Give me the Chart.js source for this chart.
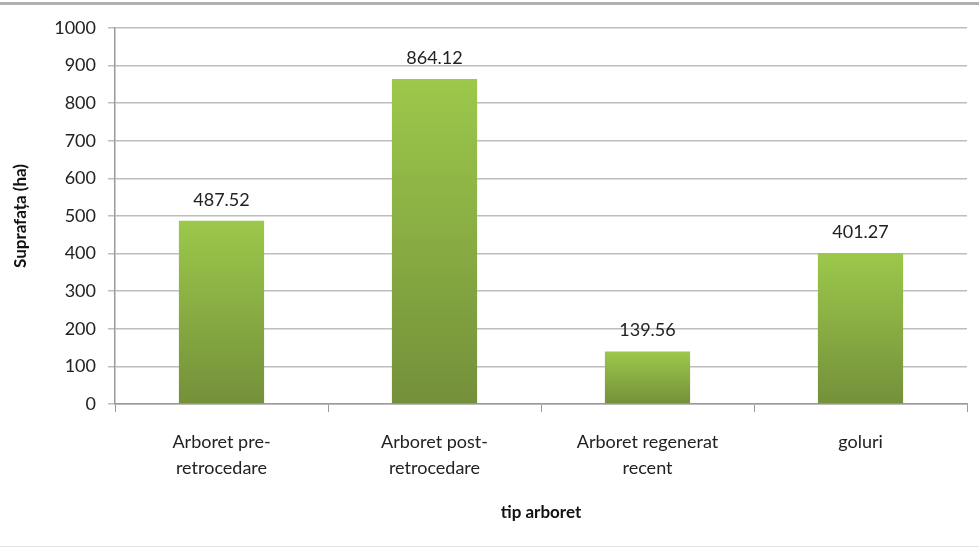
<!DOCTYPE html>
<html>
<head>
<meta charset="utf-8">
<script src="https://cdn.jsdelivr.net/npm/chart.js@4"></script>
<style>
  html, body { margin: 0; padding: 0; background: #fff; }
  #wrap { position: relative; width: 979px; height: 549px; }
  #wrap:before { content: ""; position: absolute; left: 0; right: 0; top: 2px; height: 3px; background: #b0b0b0; }
  #wrap:after { content: ""; position: absolute; left: 0; right: 0; bottom: 2px; height: 1px; background: #e4e4e4; }
</style>
</head>
<body>
<div id="wrap"><canvas id="chart" width="979" height="549"></canvas></div>
<script>
const categories = [
    ["Arboret pre-", "retrocedare"],
    ["Arboret post-", "retrocedare"],
    ["Arboret regenerat", "recent"],
    "goluri"
];
const surfaces = [487.52, 864.12, 139.56, 401.27];
const yTicks = [0, 100, 200, 300, 400, 500, 600, 700, 800, 900, 1000];

const colorTop = "#9cc84b";
const colorBottom = "#74903a";
const fontFamily = "Lato, 'Liberation Sans Narrow', Carlito, sans-serif";

// value labels above each bar
const valueLabels = {
    id: 'valueLabels',
    afterDatasetsDraw(chart) {
        const ctx = chart.ctx;
        const meta = chart.getDatasetMeta(0);
        ctx.save();
        ctx.fillStyle = "#222";
        ctx.font = "18px " + fontFamily;
        ctx.textAlign = "center";
        ctx.textBaseline = "bottom";
        meta.data.forEach((bar, i) => {
            ctx.fillText(surfaces[i].toFixed(2), bar.x, bar.y - 12);
        });
        ctx.restore();
    }
};

function barGradient(context) {
    const chart = context.chart;
    if (!chart.chartArea) return colorTop;
    const y = chart.scales.y;
    const v = context.raw || 0;
    const top = y.getPixelForValue(v);
    const bottom = y.getPixelForValue(0);
    const g = chart.ctx.createLinearGradient(0, top, 0, bottom);
    g.addColorStop(0, colorTop);
    g.addColorStop(1, colorBottom);
    return g;
}

new Chart(document.getElementById("chart"), {
    type: 'bar',
    data: {
        labels: categories,
        datasets: [{
            label: "Suprafața (ha)",
            data: surfaces,
            backgroundColor: barGradient,
            borderWidth: 0,
            categoryPercentage: 0.8,
            barPercentage: 0.5,
        }]
    },
    options: {
        responsive: false,
        animation: false,
        devicePixelRatio: 1,
        layout: { padding: { left: 0, right: 12, top: 28, bottom: 22 } },
        plugins: {
            legend: { display: false },
            tooltip: { enabled: false },
        },
        scales: {
            x: {
                grid: {
                    offset: true,
                    drawOnChartArea: false,
                    color: "#9a9a9a",
                    tickLength: 8,
                },
                border: { color: "#9a9a9a", width: 1.5 },
                ticks: {
                    color: "#222",
                    font: { size: 18, family: fontFamily, lineHeight: 1.45 },
                    padding: 17,
                    maxRotation: 0,
                },
                title: {
                    display: true,
                    text: "tip arboret",
                    color: "#111",
                    font: { size: 17, weight: 'bold', family: fontFamily },
                    padding: { top: 16 },
                },
                afterFit(scale) { scale.height = 123; }
            },
            y: {
                min: 0,
                max: 1000,
                afterBuildTicks(scale) { scale.ticks = yTicks.map(v => ({ value: v })); },
                grid: {
                    color: "#bdbdbd",
                    lineWidth: 1.5,
                    tickLength: 7,
                },
                border: { color: "#9a9a9a", width: 1.5 },
                ticks: {
                    color: "#222",
                    font: { size: 18, family: fontFamily },
                    padding: 12,
                    callback: v => String(v),
                },
                title: {
                    display: true,
                    text: "Suprafața (ha)",
                    color: "#111",
                    font: { size: 17, weight: 'bold', family: fontFamily },
                    padding: { top: 10, bottom: 14 },
                },
                afterFit(scale) { scale.width = 115; }
            }
        }
    },
    plugins: [valueLabels]
});
</script>
</body>
</html>
